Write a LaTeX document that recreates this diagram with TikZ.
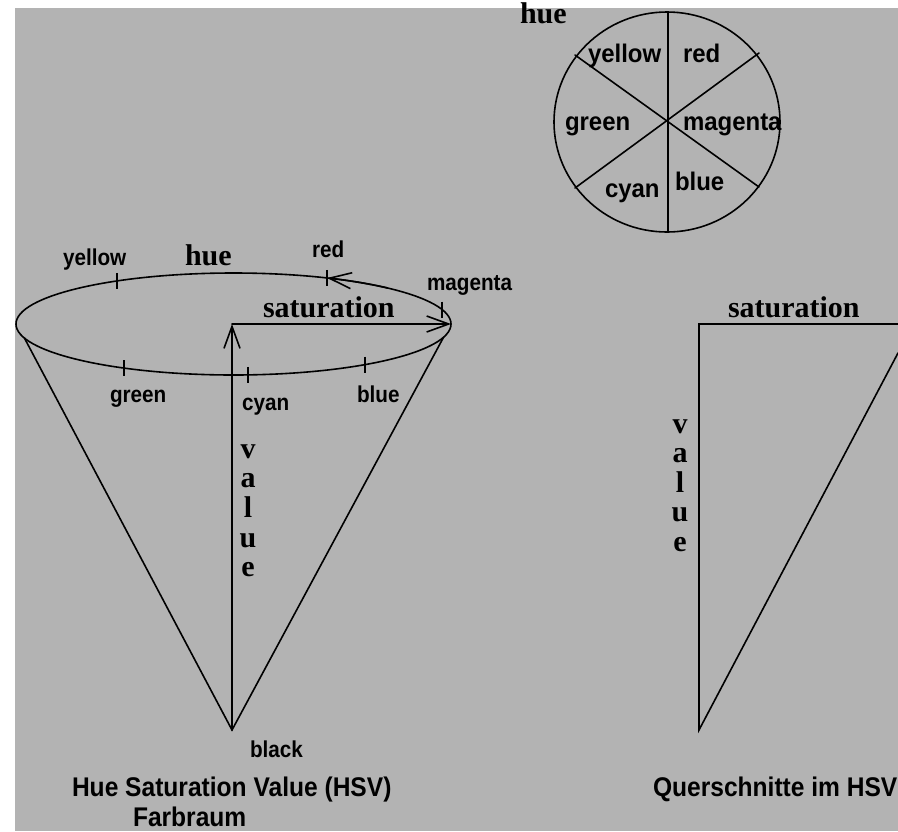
\documentclass[tikz,border=0pt]{standalone}
\usepackage{fontspec}
\setmainfont{Liberation Serif}
\newfontfamily\hsans{Liberation Sans}
\usetikzlibrary{arrows.meta,calc}
\definecolor{bg}{RGB}{179,179,179}
\newcommand\nrw[2]{\scalebox{#1}[1]{#2}}
\begin{document}
\begin{tikzpicture}[x=1pt,y=-1pt,
  every node/.style={inner sep=0pt, outer sep=0pt, anchor=base west},
  ln/.style={line width=1.6pt, line cap=round},
  ser/.style={font=\fontsize{30}{34}\selectfont\bfseries},
  sw/.style={font=\hsans\fontsize{25.5}{28}\selectfont\bfseries},
  sc/.style={font=\hsans\fontsize{23}{25}\selectfont\bfseries},
  capt/.style={font=\hsans\fontsize{27}{30}\selectfont\bfseries},
  barb/.style={-{Straight Barb[length=22pt,width=16pt]}},
  tick/.style={line width=1.3pt}
]
% background
\fill[white] (0,0) rectangle (898,831);
\useasboundingbox (0,0) rectangle (898,831);
\fill[bg] (15,8) rectangle (898,831);

% ---------- hue wheel ----------
\coordinate (W) at (667,122);
\coordinate (wt) at (668,12);
\coordinate (wb) at (668,232);
\coordinate (w1) at (575,55);
\coordinate (w2) at (759,187);
\coordinate (w3) at (759,53);
\coordinate (w4) at (575,188);
\draw[ln] (W) ellipse[x radius=113, y radius=110];
\draw[ln] (wt) -- (wb);
\draw[ln] (w1) -- (w2);
\draw[ln] (w3) -- (w4);
\node[ser] (whue) at (520,23) {hue};
\node[sw] (wyellow) at (588,62) {\nrw{0.94}{yellow}};
\node[sw] (wred) at (683,62) {\nrw{0.94}{red}};
\node[sw] (wgreen) at (565,130) {\nrw{0.94}{green}};
\node[sw] (wmagenta) at (683,130) {\nrw{0.94}{magenta}};
\node[sw] (wcyan) at (605,197) {\nrw{0.94}{cyan}};
\node[sw] (wblue) at (675,190) {\nrw{0.94}{blue}};

% ---------- cone ----------
\coordinate (E) at (233.5,324);
\coordinate (O) at (232,324);
\coordinate (A) at (232,730);
\coordinate (R) at (451,324);
\coordinate (cl) at ($(E)+(164:217.5 and 51)$);
\coordinate (cr) at ($(E)+(15:217.5 and 51)$);
\draw[ln] (E) ellipse[x radius=217.5, y radius=51];
\draw[ln] (cl) -- (A) -- (cr);
\draw[ln, barb] (A) -- (O);
\draw[ln, barb] (O) -- (R);
\draw[ln, barb] ($(E)+(-45:217.5 and 51)$) arc[start angle=-45, end angle=-64.5, x radius=217.5, y radius=51];
% ticks
\foreach \n/\a in {ty/-122.4, tr/-64.5, tm/-16.5, tg/120.2, tc/86.2, tb/52.8}{
  \coordinate (\n) at ($(E)+(\a:217.5 and 51)$);
  \draw[tick] ($(\n)+(0,-8)$) -- ($(\n)+(0,8)$);
}
\node[sc] (cyellow) at (63,265) {\nrw{0.9}{yellow}};
\node[ser] (chue) at (185,265) {hue};
\node[sc] (cred) at (312,257) {\nrw{0.9}{red}};
\node[sc] (cmagenta) at (427,290) {\nrw{0.9}{magenta}};
\node[ser] (csat) at (263,317) {saturation};
\node[sc] (cgreen) at (110,402) {\nrw{0.9}{green}};
\node[sc] (ccyan) at (242,410) {\nrw{0.9}{cyan}};
\node[sc] (cblue) at (357,402) {\nrw{0.9}{blue}};
\node[sc] (cblack) at (250,757) {\nrw{0.9}{black}};
\foreach \l [count=\i] in {v,a,l,u,e}{
  \node[ser, anchor=base] (lv\i) at (248,{458+29.7*(\i-1)}) {\l};
}
\node[capt] (cap1) at (72,796) {\nrw{0.91}{Hue Saturation Value (HSV)}};
\node[capt] (cap2) at (133,826) {\nrw{0.91}{Farbraum}};

% ---------- cross section ----------
\coordinate (q0) at (699,324);
\coordinate (q1) at (898,324);
\coordinate (q2) at (699,730);
\coordinate (q3) at (898,353);
\draw[ln] (q1) -- (q0) -- (q2) -- (q3);
\node[ser] (rsat) at (728,317) {saturation};
\foreach \l [count=\i] in {v,a,l,u,e}{
  \node[ser, anchor=base] (rv\i) at (680,{433+29.5*(\i-1)}) {\l};
}
\node[capt] (cap3) at (653,796) {\nrw{0.91}{Querschnitte im HSV}};
\end{tikzpicture}
\end{document}
